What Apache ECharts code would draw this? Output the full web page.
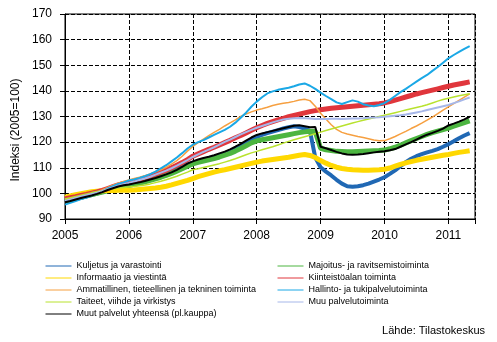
<!DOCTYPE html>
<html>
<head>
<meta charset="utf-8">
<script src="https://cdn.jsdelivr.net/npm/echarts@6/dist/echarts.min.js"></script>
<style>
html,body{margin:0;padding:0;background:#fff;}
#c{width:497px;height:342px;}
</style>
</head>
<body>
<div id="c"></div>
<script>
// Monthly data, Jan 2005 .. May 2011
var startYear = 2005;
var yTicks = [90, 100, 110, 120, 130, 140, 150, 160, 170];
var xTicks = [2005, 2006, 2007, 2008, 2009, 2010, 2011];

var kuljetus = [
96.8, 97.3, 97.8, 98.3, 98.8, 99.3, 99.9, 100.6, 101.3, 102.1, 102.8, 103.5,
104.0, 104.4, 104.8, 105.3, 105.9, 106.5, 107.1, 107.8, 108.6, 109.5, 110.4, 111.3,
112.0, 112.6, 113.1, 113.6, 114.1, 114.7, 115.3, 116.1, 117.1, 118.3, 119.6, 120.9,
122.0, 122.8, 123.5, 124.1, 124.7, 125.3, 125.8, 126.2, 125.9, 125.3, 124.4, 114.0,
110.2, 108.5, 107.0, 105.3, 103.8, 102.8, 102.6, 102.8, 103.2, 103.8, 104.6, 105.4,
106.3, 107.6, 109.0, 110.6, 112.2, 113.5, 114.5, 115.3, 116.0, 116.6, 117.3, 118.2,
119.2, 120.3, 121.5, 122.6, 123.5];

var informaatio = [
98.5, 99.0, 99.5, 99.9, 100.3, 100.6, 100.8, 101.0, 101.1, 101.1, 101.2, 101.2,
101.2, 101.3, 101.5, 101.7, 101.9, 102.1, 102.4, 102.8, 103.3, 103.9, 104.5, 105.1,
105.8, 106.5, 107.1, 107.7, 108.3, 108.8, 109.2, 109.7, 110.2, 110.7, 111.2, 111.7,
112.2, 112.6, 112.9, 113.2, 113.5, 113.8, 114.1, 114.5, 114.9, 115.2, 114.8, 114.0,
112.8, 111.8, 110.9, 110.2, 109.7, 109.4, 109.2, 109.1, 109.0, 109.0, 109.1, 109.2,
109.4, 109.9, 110.6, 111.3, 111.9, 112.4, 112.9, 113.3, 113.7, 114.1, 114.5, 114.9,
115.2, 115.6, 116.0, 116.3, 116.6];

var ammatillinen = [
97.3, 97.8, 98.3, 98.8, 99.3, 99.9, 100.6, 101.4, 102.3, 103.2, 104.0, 104.6,
105.2, 105.8, 106.3, 106.9, 107.6, 108.4, 109.2, 110.2, 111.4, 112.8, 114.5, 116.5,
118.3, 119.8, 121.2, 122.5, 123.8, 125.0, 126.3, 127.5, 128.7, 130.0, 131.0, 131.8,
132.5, 133.0, 133.6, 134.3, 134.8, 135.2, 135.5, 135.9, 136.4, 136.7, 136.2, 134.0,
131.3, 129.0, 126.8, 125.0, 123.8, 123.2, 122.7, 122.2, 121.8, 121.3, 120.8, 120.5,
120.6, 121.3, 122.2, 123.2, 124.2, 125.3, 126.3, 127.4, 128.6, 129.8, 131.1, 132.5,
133.8, 135.0, 136.3, 137.6, 138.8];

var taiteet = [
97.8, 98.3, 98.8, 99.3, 99.8, 100.3, 100.7, 101.0, 101.4, 101.8, 102.1, 102.3,
102.5, 102.7, 103.0, 103.3, 103.7, 104.2, 104.7, 105.3, 106.0, 106.7, 107.5, 108.3,
109.2, 109.6, 110.1, 110.6, 111.1, 111.6, 112.2, 112.8, 113.5, 114.3, 115.1, 115.8,
116.4, 117.0, 117.6, 118.2, 118.9, 119.6, 120.3, 120.9, 121.5, 122.1, 122.7, 123.3,
123.9, 124.5, 125.1, 125.7, 126.3, 126.9, 127.5, 128.0, 128.5, 129.0, 129.5, 130.0,
130.5, 131.0, 131.5, 132.0, 132.5, 133.0, 133.5, 134.0, 134.6, 135.3, 136.0, 136.6,
137.1, 137.6, 138.1, 138.5, 138.9];

var muutYhteensa = [
96.5, 97.0, 97.6, 98.2, 98.7, 99.2, 99.8, 100.5, 101.3, 102.0, 102.7, 103.2,
103.5, 103.9, 104.3, 104.8, 105.4, 106.0, 106.7, 107.4, 108.2, 109.2, 110.3, 111.6,
112.5, 113.2, 113.8, 114.3, 114.9, 115.6, 116.3, 117.2, 118.2, 119.3, 120.6, 121.8,
122.8, 123.4, 123.9, 124.4, 124.9, 125.4, 125.9, 126.4, 126.6, 126.2, 125.8, 125.9,
118.2, 117.6, 116.9, 116.2, 115.6, 115.2, 115.1, 115.2, 115.4, 115.7, 116.0, 116.2,
116.4, 116.8, 117.3, 118.2, 119.1, 120.0, 121.0, 122.0, 122.9, 123.6, 124.4, 125.3,
126.5, 127.2, 128.0, 128.9, 129.9];

var majoitus = [
97.0, 97.5, 98.0, 98.5, 99.0, 99.5, 100.0, 100.5, 101.0, 101.6, 102.2, 102.7,
103.1, 103.5, 104.0, 104.5, 105.1, 105.7, 106.3, 107.0, 107.8, 108.7, 109.6, 110.6,
111.5, 112.1, 112.6, 113.1, 113.6, 114.2, 114.9, 115.6, 116.5, 117.5, 118.6, 119.7,
120.5, 120.9, 121.3, 121.7, 122.1, 122.5, 122.9, 123.3, 123.7, 124.0, 124.2, 124.1,
117.6, 117.0, 116.7, 116.4, 116.3, 116.2, 116.2, 116.3, 116.4, 116.5, 116.6, 116.7,
116.9, 117.4, 118.0, 118.8, 119.7, 120.6, 121.4, 122.2, 123.0, 123.7, 124.3, 124.9,
125.5, 126.2, 126.9, 127.6, 128.3];

var kiinteisto = [
97.8, 98.3, 98.7, 99.2, 99.6, 100.1, 100.6, 101.2, 101.9, 102.6, 103.3, 103.9,
104.3, 104.8, 105.4, 106.0, 106.7, 107.5, 108.3, 109.0, 110.0, 111.0, 112.0, 113.2,
114.5, 115.4, 116.3, 117.2, 118.0, 118.9, 119.8, 120.7, 121.7, 122.6, 123.6, 124.6,
125.6, 126.5, 127.3, 128.0, 128.7, 129.3, 129.9, 130.4, 130.9, 131.4, 131.9, 132.3,
132.6, 132.9, 133.2, 133.4, 133.6, 133.8, 134.0, 134.2, 134.4, 134.6, 134.8, 135.0,
135.3, 135.8, 136.4, 137.0, 137.6, 138.2, 138.8, 139.3, 139.8, 140.3, 140.8, 141.3,
141.8, 142.3, 142.7, 143.1, 143.5];

var hallinto = [
95.6, 96.3, 97.0, 97.8, 98.4, 99.2, 100.1, 100.8, 101.9, 102.8, 103.7, 104.3,
105.0, 105.4, 106.0, 106.7, 107.5, 108.5, 109.8, 111.0, 112.5, 114.0, 115.7, 117.5,
119.0, 120.0, 120.8, 121.8, 122.8, 123.8, 124.8, 126.0, 127.6, 129.5, 131.5, 133.8,
135.8, 137.5, 139.0, 139.8, 140.4, 140.8, 141.2, 141.8, 142.5, 142.9, 142.0, 140.8,
139.3, 138.0, 136.8, 135.5, 134.9, 135.6, 136.3, 135.8, 134.8, 134.3, 134.0, 134.5,
135.2, 136.5, 138.0, 139.5, 140.8, 142.2, 143.6, 145.0, 146.2, 147.8, 149.3, 151.0,
152.7, 154.0, 155.2, 156.4, 157.5];

var muuPalvelu = [
97.0, 97.6, 98.2, 98.8, 99.3, 99.8, 100.3, 100.9, 101.6, 102.3, 103.0, 103.6,
104.1, 104.6, 105.2, 105.8, 106.5, 107.3, 108.1, 108.9, 109.8, 110.8, 111.9, 113.0,
114.2, 115.2, 116.2, 117.1, 118.0, 119.0, 120.1, 121.0, 122.0, 123.0, 123.9, 124.8,
125.6, 126.3, 127.0, 127.7, 128.3, 128.8, 129.1, 129.3, 129.4, 129.3, 129.2, 129.0,
129.0, 129.0, 129.1, 129.1, 129.0, 129.1, 129.2, 129.2, 129.3, 129.5, 129.6, 129.7,
129.9, 130.1, 130.3, 130.5, 130.8, 131.2, 131.6, 132.0, 132.5, 133.0, 133.5, 134.0,
134.5, 135.2, 135.9, 136.7, 137.4];

var names = {
  kuljetus: 'Kuljetus ja varastointi',
  informaatio: 'Informaatio ja viestintä',
  ammatillinen: 'Ammatillinen, tieteellinen ja tekninen toiminta',
  taiteet: 'Taiteet, viihde ja virkistys',
  muut: 'Muut palvelut yhteensä (pl.kauppa)',
  majoitus: 'Majoitus- ja ravitsemistoiminta',
  kiinteisto: 'Kiinteistöalan toiminta',
  hallinto: 'Hallinto- ja tukipalvelutoiminta',
  muu: 'Muu palvelutoiminta'
};

function toPairs(arr) {
  return arr.map(function (v, i) { return [startYear + i / 12, v]; });
}
function mk(name, arr, color, width) {
  return {
    name: name, type: 'line', data: toPairs(arr),
    showSymbol: false, symbol: 'none', smooth: false,
    lineStyle: { color: color, width: width }, itemStyle: { color: color },
    emphasis: { disabled: true }
  };
}

var chart = echarts.init(document.getElementById('c'), null, { renderer: 'canvas' });
var font = 'Arial, "Liberation Sans", sans-serif';
var legendCommon = {
  orient: 'vertical', top: 260, padding: 0, itemWidth: 26, itemHeight: 12, itemGap: 0,
  textStyle: { fontSize: 9, fontFamily: font, color: '#000', lineHeight: 12 },
  lineStyle: { width: 1 },
  itemStyle: { opacity: 0 },
  selectedMode: false
};
var option = {
  animation: false,
  backgroundColor: '#fff',
  grid: { left: 65, right: 22, top: 14, bottom: 123, show: true, borderColor: '#000', borderWidth: 1, backgroundColor: 'transparent' },
  xAxis: {
    type: 'value', min: xTicks[0], max: startYear + 77 / 12, interval: 1,
    axisLine: { show: true, lineStyle: { color: '#000', width: 1 } },
    axisTick: { show: true, length: 5, lineStyle: { color: '#000' } },
    axisLabel: { color: '#000', fontSize: 12, fontFamily: font, margin: 11,
      formatter: function (v) { return xTicks.indexOf(Math.round(v * 1000) / 1000) >= 0 ? String(v) : ''; } },
    splitLine: { show: true, lineStyle: { color: '#000', type: [4, 2], width: 1 } }
  },
  yAxis: {
    type: 'value', min: yTicks[0], max: yTicks[yTicks.length - 1], interval: 10,
    axisLine: { show: true, lineStyle: { color: '#000', width: 1 } },
    axisTick: { show: true, length: 5, lineStyle: { color: '#000' } },
    axisLabel: { color: '#000', fontSize: 12, fontFamily: font, margin: 13 },
    splitLine: { show: true, lineStyle: { color: '#000', type: [4, 2], width: 1 } }
  },
  legend: [
    Object.assign({}, legendCommon, { left: 45,
      data: [names.kuljetus, names.informaatio, names.ammatillinen, names.taiteet, names.muut] }),
    Object.assign({}, legendCommon, { left: 277,
      data: [names.majoitus, names.kiinteisto, names.hallinto, names.muu] })
  ],
  graphic: [
    { type: 'text', x: 16, y: 130, rotation: Math.PI / 2,
      style: { text: 'Indeksi (2005=100)', font: '12px ' + font, fill: '#000', align: 'center', verticalAlign: 'middle' } },
    { type: 'text', x: 485, y: 331,
      style: { text: 'Lähde: Tilastokeskus', font: '11px ' + font, fill: '#000', align: 'right', verticalAlign: 'middle' } }
  ],
  series: [
    mk(names.kuljetus, kuljetus, '#2068b4', 4),
    mk(names.majoitus, majoitus, '#4cb540', 5),
    mk(names.informaatio, informaatio, '#ffd800', 5),
    mk(names.kiinteisto, kiinteisto, '#e0363c', 5),
    mk(names.ammatillinen, ammatillinen, '#f6a041', 1.5),
    mk(names.hallinto, hallinto, '#1aa8e6', 2),
    mk(names.taiteet, taiteet, '#b8e22e', 1.5),
    mk(names.muu, muuPalvelu, '#a6b7e9', 2),
    mk(names.muut, muutYhteensa, '#000000', 2)
  ]
};
chart.setOption(option);
</script>
</body>
</html>
